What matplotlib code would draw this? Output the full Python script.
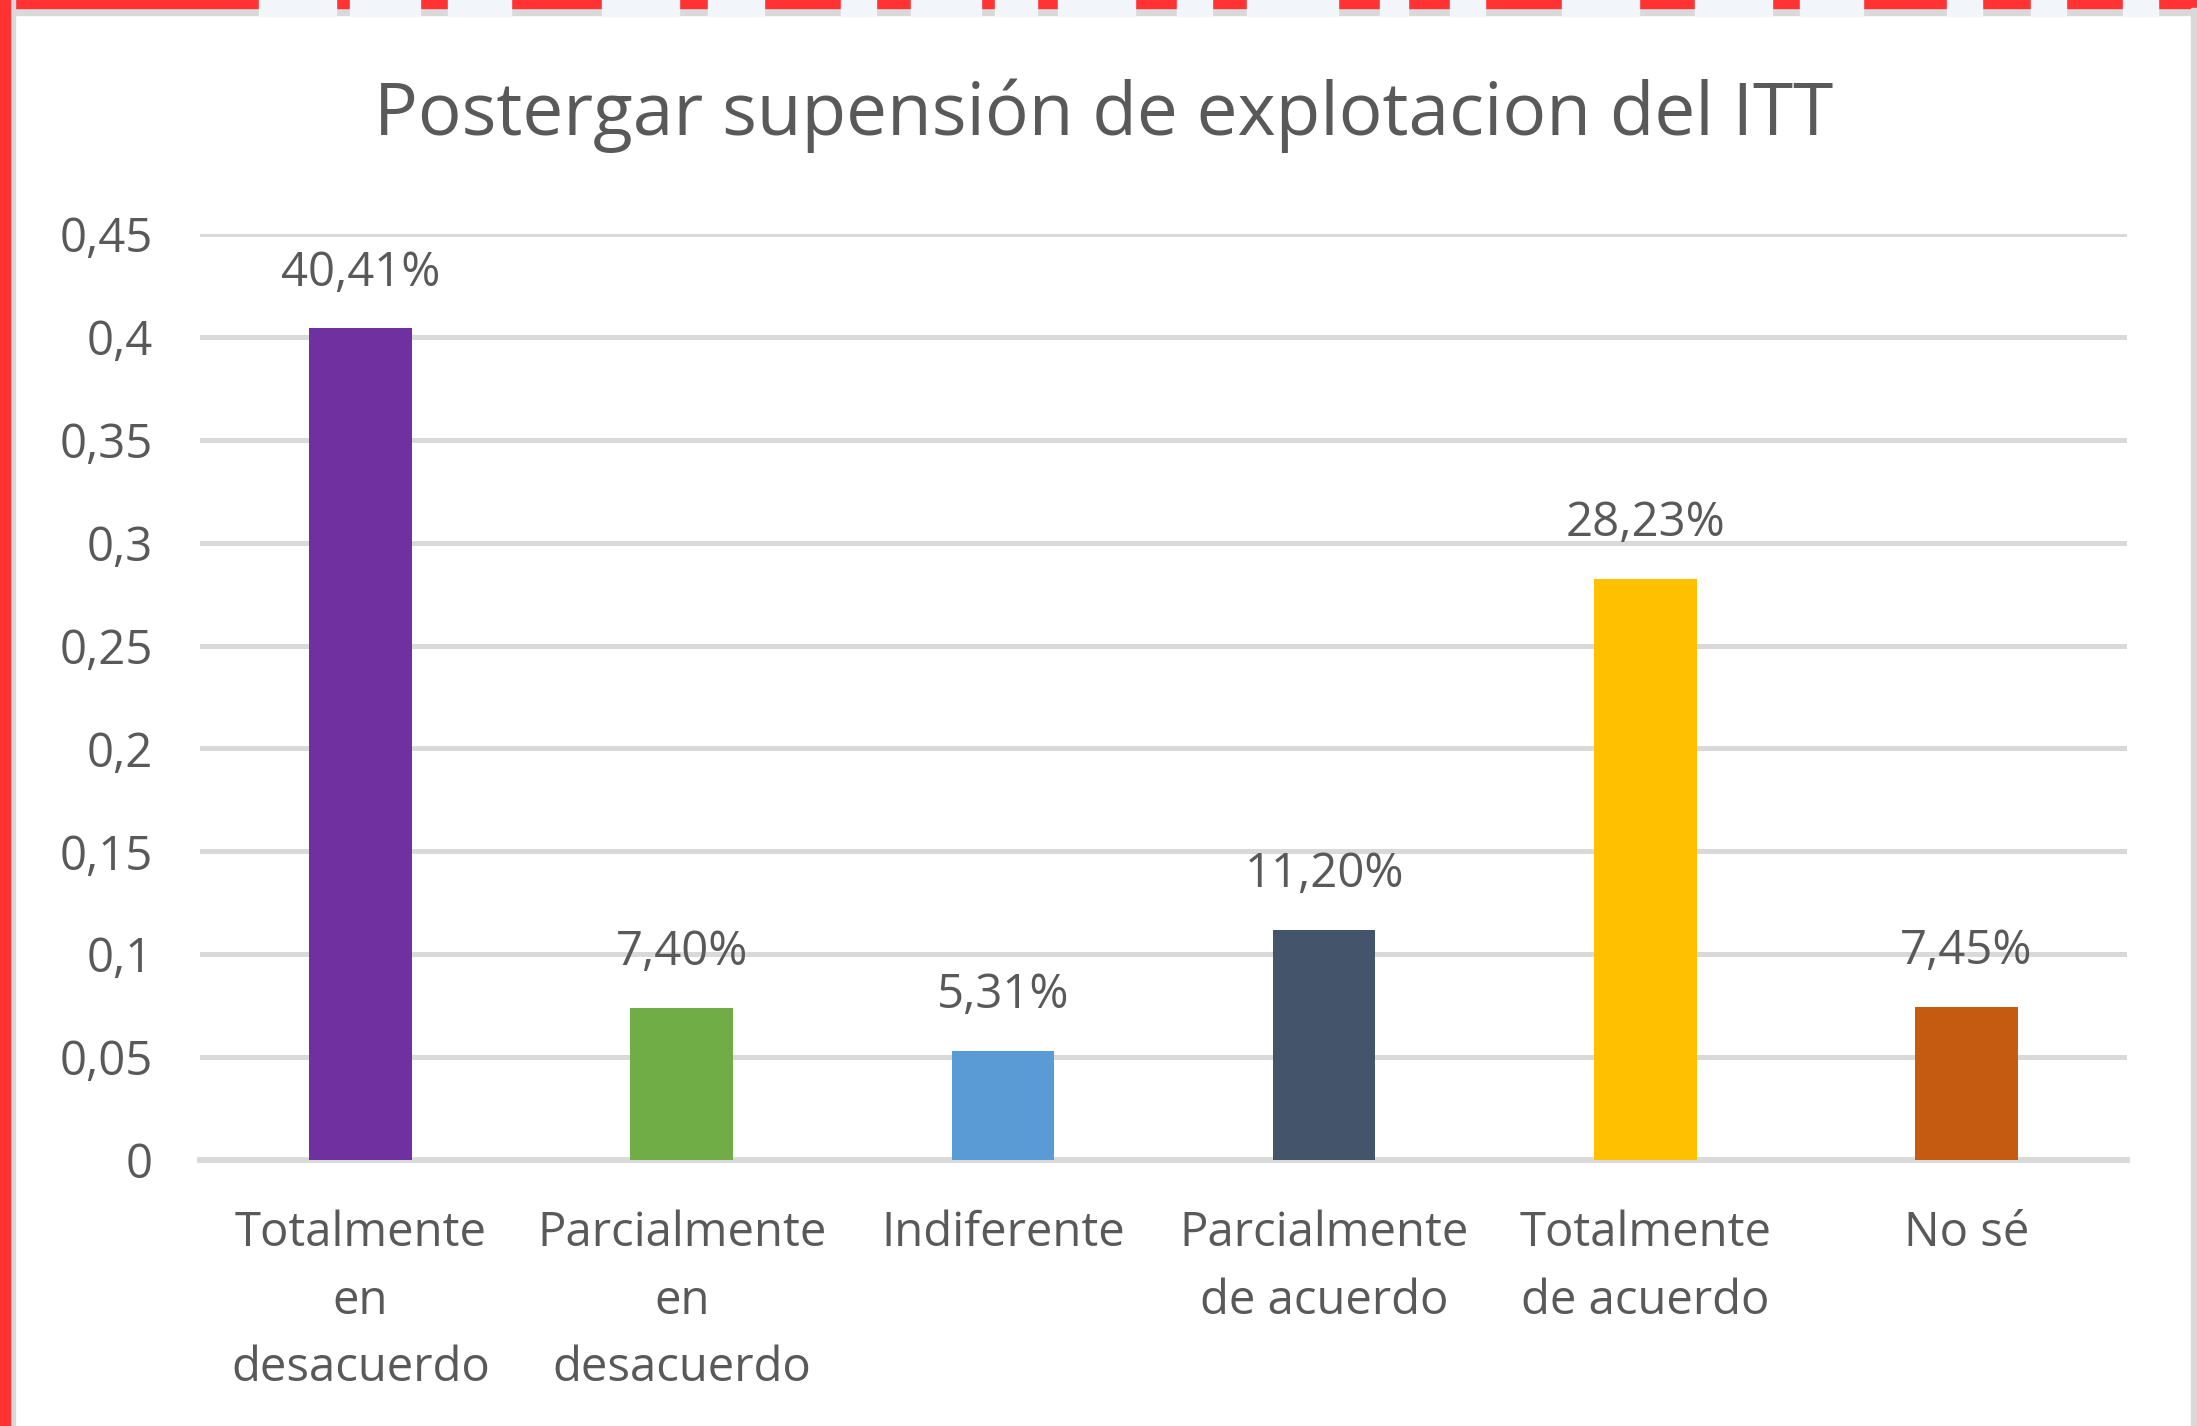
import matplotlib
matplotlib.use("Agg")
import matplotlib.pyplot as plt
from matplotlib.patches import Rectangle
from matplotlib.ticker import FuncFormatter, MultipleLocator

categories = ["Totalmente\nen\ndesacuerdo", "Parcialmente\nen\ndesacuerdo", "Indiferente",
              "Parcialmente\nde acuerdo", "Totalmente\nde acuerdo", "No sé"]
values = [0.4041, 0.0740, 0.0531, 0.1120, 0.2823, 0.0745]
value_labels = ["40,41%", "7,40%", "5,31%", "11,20%", "28,23%", "7,45%"]
colors = ["#7030A0", "#70AD47", "#5B9BD5", "#44546A", "#FFC000", "#C55A11"]
title = "Postergar supensión de explotacion del ITT"

plt.rcParams['font.family'] = ['Open Sans', 'DejaVu Sans']
TXT = "#595959"
GRID = "#D9D9D9"

W, H = 2197, 1426
fig = plt.figure(figsize=(W / 100, H / 100), dpi=100)
fig.patch.set_facecolor("white")

# decorative frame
fig.add_artist(Rectangle((0, 1 - 15 / H), 1, 15 / H, transform=fig.transFigure, color=GRID, zorder=0))
fig.add_artist(Rectangle((0, 1 - 8 / H), 1, 8 / H, transform=fig.transFigure, color="#FF3333", zorder=1))
fig.add_artist(Rectangle((0, 0), 15 / W, 1, transform=fig.transFigure, color=GRID, zorder=1))
fig.add_artist(Rectangle((0, 0), 10 / W, 1, transform=fig.transFigure, color="#FF3333", zorder=2))
fig.add_artist(Rectangle((1 - 6 / W, 0), 6 / W, 1 - 8 / H, transform=fig.transFigure, color=GRID, zorder=1))
# pale fragments of a cut-off banner text at the top
frags = [(185, 240), (250, 300), (320, 365), (430, 485), (505, 545), (600, 625), (650, 700),
         (710, 740), (755, 810), (840, 865), (890, 955), (985, 1005), (1035, 1060), (1115, 1170),
         (1210, 1265), (1285, 1330), (1390, 1415), (1450, 1475), (1515, 1540)]
for a, b in frags:
    x0 = a * 1.401 / W
    w = (b - a) * 1.401 / W
    fig.add_artist(Rectangle((x0, 1 - 16 / H), w, 16 / H, transform=fig.transFigure,
                             color="#F2F5FA", zorder=3))

ax = fig.add_axes([200 / W, 266 / H, (2127 - 200) / W, (1160 - 234) / H])
x = list(range(len(categories)))
ax.bar(x, values, width=0.32, color=colors, zorder=3)
ax.set_xlim(-0.5, len(categories) - 0.5)
ax.set_ylim(0, 0.45)
ax.yaxis.set_major_locator(MultipleLocator(0.05))
ax.yaxis.set_major_formatter(FuncFormatter(lambda v, p: ("%g" % round(v, 2)).replace(".", ",")))
ax.grid(axis="y", color=GRID, linewidth=3.6, zorder=0)
ax.set_axisbelow(True)
for s in ["top", "right", "left"]:
    ax.spines[s].set_visible(False)
ax.spines["bottom"].set_color(GRID)
ax.spines["bottom"].set_linewidth(4.2)
ax.spines["bottom"].set_zorder(1)
ax.tick_params(axis="y", length=0, pad=34, labelsize=34, labelcolor=TXT)
ax.tick_params(axis="x", length=0, pad=36, labelsize=34, labelcolor=TXT)
ax.set_xticks(x)
ax.set_xticklabels(categories, linespacing=1.54, va="top")

for xi, v, lab in zip(x, values, value_labels):
    ax.annotate(lab, (xi, v), xytext=(0, 23), textcoords="offset points",
                ha="center", va="bottom", fontsize=34, color=TXT)

fig.text(1104 / W, 1 - 116 / H, title, ha="center", va="center", fontsize=52.5, color=TXT)

fig.savefig("out.png", dpi=100)
